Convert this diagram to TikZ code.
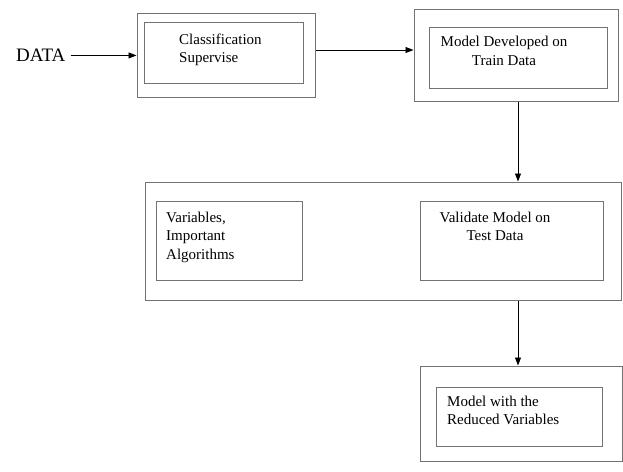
\documentclass[tikz,border=0pt]{standalone}
\usepackage{fontspec}
\setmainfont{Liberation Serif}
\usetikzlibrary{arrows.meta}
\begin{document}
\begin{tikzpicture}[x=1pt,y=-1pt,
  frame/.style={draw=black!55, line width=1pt, inner sep=0pt, rectangle},
  label/.style={inner sep=0pt, font=\fontsize{15}{18.4}\selectfont},
  flow/.style={draw=black, line width=0.8pt, -{Triangle[length=8pt,width=6pt]}}]
\useasboundingbox (0,0) rectangle (623,471);

% outer frames
\node[frame, minimum width=178, minimum height=84] (b1) at (226,55) {};
\node[frame, minimum width=204, minimum height=92] (b2) at (516,55) {};
\node[frame, minimum width=476, minimum height=118] (b3) at (383.5,241) {};
\node[frame, minimum width=202, minimum height=95] (b4) at (521,413.5) {};

% inner frames
\node[frame, minimum width=159, minimum height=61] (i1) at (223.5,52.5) {};
\node[frame, minimum width=178, minimum height=61] (i2) at (518,57.5) {};
\node[frame, minimum width=146, minimum height=79] (i3a) at (229,240.5) {};
\node[frame, minimum width=183, minimum height=79] (i3b) at (511.5,240.5) {};
\node[frame, minimum width=166, minimum height=59] (i4) at (519,416.5) {};

% texts (base anchor sits on the last line)
\node[inner sep=0pt, anchor=base west, font=\fontsize{19}{22}\selectfont] (data) at (16,61.7) {DATA};
\node[label, anchor=base west, align=left] (t1) at (179,62.7) {Classification\\Supervise};
\node[label, anchor=base, align=center] (t2) at (504,65.1) {Model Developed on\\Train Data};
\node[label, anchor=base west, align=left] (t3a) at (166,259.2) {Variables,\\Important\\Algorithms};
\node[label, anchor=base, align=center] (t3b) at (495,240.7) {Validate Model on\\Test Data};
\node[label, anchor=base west, align=left] (t4) at (447,424.4) {Model with the\\Reduced Variables};

% connectors
\coordinate (row) at (0,50);
\coordinate (col) at (518,0);
\draw[flow] ([xshift=5pt]data.east) -- (b1.west |- data.east);
\draw[flow] (b1.east |- row) -- (b2.west |- row);
\draw[flow] (b2.south -| col) -- (b3.north -| col);
\draw[flow] (b3.south -| col) -- (b4.north -| col);
\end{tikzpicture}
\end{document}
